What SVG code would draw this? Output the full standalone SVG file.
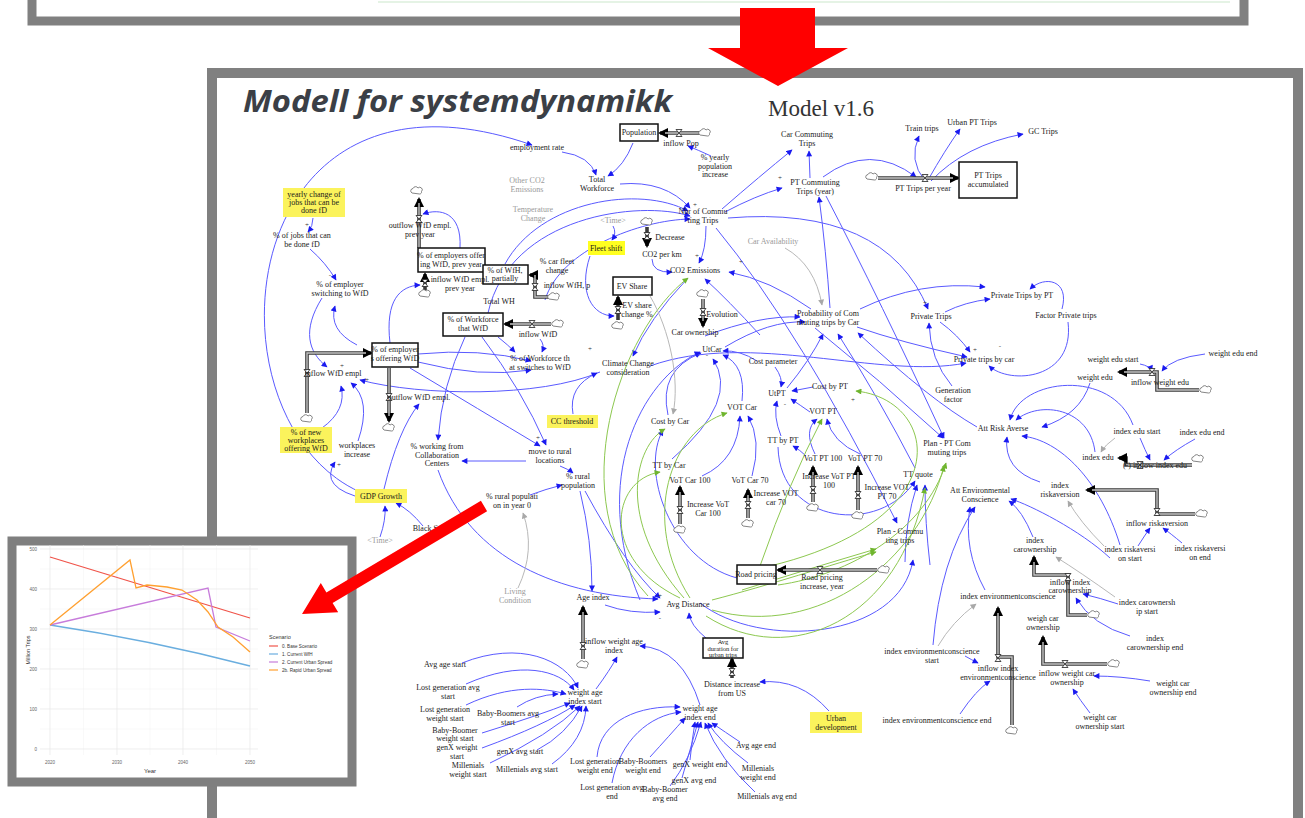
<svg xmlns="http://www.w3.org/2000/svg" width="1305" height="818" viewBox="0 0 1305 818">
<defs>
<style>
.t{font-family:"Liberation Serif",serif;font-size:8px;fill:#1a1a1a;text-anchor:middle}
.ts{font-family:"Liberation Serif",serif;font-size:6.5px;fill:#1a1a1a;text-anchor:middle}
.gt{font-family:"Liberation Serif",serif;font-size:8px;fill:#9a9a9a;text-anchor:middle}
.p{font-family:"Liberation Serif",serif;font-size:7px;fill:#333;text-anchor:middle}
.b{fill:none;stroke:#5a5aff;stroke-width:1;marker-end:url(#ab)}
.gr{fill:none;stroke:#8dc850;stroke-width:1;marker-end:url(#ag)}
.gy{fill:none;stroke:#b8b8b8;stroke-width:1;marker-end:url(#agy)}
.stock{fill:#fff;stroke:#111;stroke-width:1.5}
.yl{fill:#fbf35c}
.pipe{fill:none;stroke:#3a3a3a;stroke-width:3.6;marker-end:url(#af)}
.pipei{fill:none;stroke:#c4c4c4;stroke-width:1.4}
.cl{fill:#fff;stroke:#666;stroke-width:0.8}
.ax{font-family:"Liberation Sans",sans-serif;font-size:4.5px;fill:#666}
.lg{font-family:"Liberation Sans",sans-serif;font-size:4.6px;fill:#333}
</style>
<marker id="ab" viewBox="0 0 10 10" refX="9" refY="5" markerWidth="7" markerHeight="6" markerUnits="userSpaceOnUse" orient="auto"><path d="M0,0L10,5L0,10z" fill="#1a1af0"/></marker>
<marker id="ag" viewBox="0 0 10 10" refX="9" refY="5" markerWidth="7" markerHeight="6" markerUnits="userSpaceOnUse" orient="auto"><path d="M0,0L10,5L0,10z" fill="#6fb52e"/></marker>
<marker id="agy" viewBox="0 0 10 10" refX="9" refY="5" markerWidth="7" markerHeight="6" markerUnits="userSpaceOnUse" orient="auto"><path d="M0,0L10,5L0,10z" fill="#a8a8a8"/></marker>
<marker id="af" viewBox="0 0 10 10" refX="8" refY="5" markerWidth="10" markerHeight="10" markerUnits="userSpaceOnUse" orient="auto"><path d="M0,0L10,5L0,10z" fill="#000"/></marker>
<g id="v"><path d="M-3,-3.5H3L-3,3.5H3Z" fill="#fff" stroke="#222" stroke-width="0.8"/></g>
<g id="c"><path d="M-5,2 a2.4,2.4 0 0 1 1,-4.5 a2.8,2.8 0 0 1 5,-0.5 a2.4,2.4 0 0 1 3.5,3.5 a2,2 0 0 1 -2,2.5 z" class="cl"/></g>
</defs>

<rect width="1305" height="818" fill="#fff"/>

<g id="frames">
<rect x="32" y="-20" width="1212" height="41" fill="#fff" stroke="#808080" stroke-width="9"/>
<line x1="378" y1="2" x2="1230" y2="2" stroke="#dcefdc" stroke-width="1.5"/>
<rect x="212" y="73" width="1086" height="790" fill="#fff" stroke="#808080" stroke-width="10"/>
<path d="M740,8H815V48H848L778,86L708,48H740Z" fill="#ff0000"/>
<text x="243" y="112" font-family="Open Sans" font-style="italic" font-weight="700" font-size="30" fill="#3b3f46" textLength="429" lengthAdjust="spacingAndGlyphs">Modell for systemdynamikk</text>
<text x="768" y="116" font-family="Liberation Serif" font-size="23" fill="#333">Model v1.6</text>
</g>

<g id="connectors">
<path class="b" d="M360,492 C200,420 230,40 532,145"/>
<path class="b" d="M313,218 Q313,226 308,232"/>
<path class="b" d="M310,249 Q326,263 336,280"/>
<path class="b" d="M562,152 Q590,156 596,175"/>
<path class="b" d="M633,143 Q624,166 608,176"/>
<path class="b" d="M711,156 Q698,150 688,146"/>
<path class="b" d="M620,184 Q665,180 690,208"/>
<path class="b" d="M505,264 C540,200 640,185 688,211"/>
<path class="b" d="M488,313 C510,215 640,200 690,216"/>
<path class="b" d="M545,300 C560,250 640,220 690,219"/>
<path class="b" d="M722,209 Q760,176 792,150"/>
<path class="b" d="M725,212 Q755,196 782,188"/>
<path class="b" d="M810,178 L809,151"/>
<path class="b" d="M823,177 Q870,142 916,177"/>
<path class="b" d="M925,181 Q908,160 919,136"/>
<path class="b" d="M928,180 Q945,150 960,129"/>
<path class="b" d="M931,181 Q965,145 1023,134"/>
<path class="b" d="M830,308 Q826,250 819,197"/>
<path class="b" d="M826,196 Q880,300 944,438"/>
<path class="b" d="M728,218 Q885,205 928,309"/>
<path class="b" d="M716,228 Q800,330 897,523"/>
<path class="b" d="M652,259 Q652,273 672,272"/>
<path class="b" d="M706,226 Q706,250 699,263"/>
<path class="b" d="M811,309 Q770,280 729,272"/>
<path class="b" d="M688,278 Q648,320 633,356"/>
<path class="b" d="M613,226 Q617,233 612,240"/>
<path class="b" d="M590,256 C578,292 592,316 614,316"/>
<path class="b" d="M600,372 C540,398 420,396 360,380"/>
<path class="b" d="M573,414 Q568,386 597,373"/>
<path class="b" d="M418,354 Q480,348 531,361"/>
<path class="b" d="M418,362 Q480,378 531,370"/>
<path class="b" d="M498,337 Q508,345 515,352"/>
<path class="b" d="M540,339 Q545,345 542,352"/>
<path class="b" d="M465,337 Q442,385 438,440"/>
<path class="b" d="M482,337 Q522,390 546,445"/>
<path class="b" d="M410,368 Q480,410 540,446"/>
<path class="b" d="M526,461 L462,461"/>
<path class="b" d="M560,466 Q568,469 573,473"/>
<path class="b" d="M530,495 Q546,489 562,485"/>
<path class="b" d="M384,489 Q398,430 419,404"/>
<path class="b" d="M366,499 Q318,488 335,462"/>
<path class="b" d="M358,441 Q372,400 351,383"/>
<path class="b" d="M322,428 Q347,410 341,386"/>
<path class="b" d="M380,537 Q386,520 385,506"/>
<path class="b" d="M423,526 Q410,510 396,503"/>
<path class="b" d="M322,298 C302,330 308,352 327,367"/>
<path class="b" d="M357,345 Q328,330 335,306"/>
<path class="b" d="M390,343 C385,300 400,286 420,285"/>
<path class="b" d="M460,248 C462,212 440,208 423,214"/>
<path class="b" d="M438,470 C470,560 560,596 658,599"/>
<path class="b" d="M605,605 Q630,614 660,612"/>
<path class="b" d="M580,491 Q592,540 592,591"/>
<path class="b" d="M585,491 Q625,565 660,598"/>
<path class="b" d="M596,689 Q610,670 617,657"/>
<path class="b" d="M700,705 Q682,648 640,646"/>
<path class="b" d="M829,711 Q800,678 760,682"/>
<path class="b" d="M706,638 Q690,625 689,613"/>
<path class="b" d="M462,663 C520,640 565,660 578,688"/>
<path class="b" d="M466,684 C520,660 560,670 574,690"/>
<path class="b" d="M466,705 C510,684 545,688 566,694"/>
<path class="b" d="M517,707 Q535,695 558,694"/>
<path class="b" d="M482,733 Q540,715 570,703"/>
<path class="b" d="M482,748 Q545,725 575,705"/>
<path class="b" d="M490,763 Q550,735 580,706"/>
<path class="b" d="M537,750 Q566,735 582,706"/>
<path class="b" d="M552,764 Q585,740 586,706"/>
<path class="b" d="M597,757 C600,720 640,705 680,707"/>
<path class="b" d="M612,783 C620,740 650,715 681,712"/>
<path class="b" d="M650,757 Q670,735 685,718"/>
<path class="b" d="M690,760 Q692,740 695,722"/>
<path class="b" d="M682,778 Q690,750 698,722"/>
<path class="b" d="M670,786 Q690,760 701,722"/>
<path class="b" d="M740,742 Q725,732 712,723"/>
<path class="b" d="M748,763 Q720,742 708,723"/>
<path class="b" d="M755,792 Q720,760 705,723"/>
<path class="b" d="M787,388 Q810,360 823,334"/>
<path class="b" d="M915,468 Q880,400 838,334"/>
<path class="b" d="M725,347 Q770,320 805,322"/>
<path class="b" d="M757,361 Q740,350 723,351"/>
<path class="b" d="M775,367 Q783,378 781,387"/>
<path class="b" d="M813,387 L792,391"/>
<path class="b" d="M810,412 Q800,405 791,399"/>
<path class="b" d="M781,436 Q773,416 777,401"/>
<path class="b" d="M742,401 Q746,365 723,355"/>
<path class="b" d="M668,415 Q658,370 701,353"/>
<path class="b" d="M672,459 Q740,400 713,359"/>
<path class="b" d="M702,476 Q738,460 740,416"/>
<path class="b" d="M752,476 Q762,440 748,416"/>
<path class="b" d="M815,454 Q803,430 817,419"/>
<path class="b" d="M860,454 Q832,442 827,419"/>
<path class="b" d="M806,456 Q800,450 793,446"/>
<path class="b" d="M778,447 C780,525 880,535 915,481"/>
<path class="b" d="M705,336 Q760,315 800,317"/>
<path class="b" d="M760,335 Q728,300 705,279"/>
<path class="b" d="M857,327 Q900,342 967,357"/>
<path class="b" d="M860,309 Q920,280 985,287"/>
<path class="b" d="M650,366 C750,330 880,380 966,363"/>
<path class="b" d="M815,328 Q880,380 943,438"/>
<path class="b" d="M945,312 Q965,302 990,299"/>
<path class="b" d="M940,322 Q958,335 970,352"/>
<path class="b" d="M1062,309 C1070,280 1045,275 1030,289"/>
<path class="b" d="M1068,322 C1075,380 1010,385 989,366"/>
<path class="b" d="M952,386 Q930,360 929,323"/>
<path class="b" d="M977,427 Q930,400 858,333"/>
<path class="b" d="M1090,383 Q1080,415 1042,427"/>
<path class="b" d="M1095,452 C1090,408 1040,400 1016,420"/>
<path class="b" d="M1133,425 C1112,368 1020,378 1010,420"/>
<path class="b" d="M1040,482 Q1003,470 1007,437"/>
<path class="b" d="M1120,545 C1100,480 1060,440 1022,436"/>
<path class="b" d="M1140,364 Q1150,366 1152,371"/>
<path class="b" d="M1205,354 Q1172,358 1162,371"/>
<path class="b" d="M1140,438 Q1145,450 1150,460"/>
<path class="b" d="M1195,439 Q1175,450 1164,460"/>
<path class="b" d="M1138,546 Q1145,535 1150,528"/>
<path class="b" d="M1182,543 Q1170,533 1163,528"/>
<path class="b" d="M1033,537 Q1022,510 1009,501"/>
<path class="b" d="M1110,558 C1080,530 1030,505 1011,499"/>
<path class="b" d="M985,590 Q963,550 970,507"/>
<path class="b" d="M933,645 Q940,560 975,507"/>
<path class="b" d="M1118,604 Q1100,598 1083,594"/>
<path class="b" d="M1130,636 Q1092,625 1076,598"/>
<path class="b" d="M965,656 Q972,660 978,663"/>
<path class="b" d="M960,714 Q976,690 990,681"/>
<path class="b" d="M1150,681 Q1120,676 1094,676"/>
<path class="b" d="M1090,713 Q1080,700 1073,689"/>
<path class="b" d="M905,562 Q905,522 917,485"/>
<path class="b" d="M930,565 Q925,522 925,485"/>
<path class="b" d="M700,603 C760,650 900,640 913,560"/>
<path class="b" d="M737,578 C670,560 640,470 663,430"/>
<path class="b" d="M640,600 C590,480 640,380 700,352"/>
<path class="gr" d="M680,598 C600,560 610,480 660,472"/>
<path class="gr" d="M684,598 C615,520 635,445 665,429"/>
<path class="gr" d="M690,598 C640,520 670,430 727,413"/>
<path class="gr" d="M648,596 C560,500 620,330 688,278"/>
<path class="gr" d="M770,566 C960,520 940,400 856,391"/>
<path class="gr" d="M778,585 C850,575 925,530 946,463"/>
<path class="gr" d="M742,590 Q805,570 876,549"/>
<path class="gr" d="M760,566 Q790,480 822,419"/>
<path class="gr" d="M712,600 C770,585 830,565 876,552"/>
<path class="gr" d="M712,610 C820,640 920,560 944,466"/>
<path class="gr" d="M706,616 C790,670 900,620 925,488"/>
<path class="gy" d="M785,248 Q815,265 822,305"/>
<path class="gy" d="M518,588 Q536,550 523,513"/>
<path class="gy" d="M1115,438 Q1105,445 1101,452"/>
<path class="gy" d="M1104,546 Q1080,522 1068,501"/>
<path class="gy" d="M1115,597 Q1080,572 1056,557"/>
<path class="gy" d="M938,646 Q952,622 976,604"/>
<path class="gy" d="M650,296 C670,330 680,380 673,414"/>

<g id="flows">
<path class="pipe" d="M419,248 V199"/><path class="pipei" d="M419,248 V203"/>
<path class="pipe" d="M425,290 V274"/>
<path class="pipe" d="M548,297 H535 V275 H530"/><path class="pipei" d="M548,297 H535 V275"/>
<path class="pipe" d="M551,324 H505"/><path class="pipei" d="M551,324 H510"/>
<path class="pipe" d="M307,413 V353 H371"/><path class="pipei" d="M307,413 V353 H366"/>
<path class="pipe" d="M389,368 V421"/><path class="pipei" d="M389,368 V416"/>
<path class="pipe" d="M699,133 H660"/><path class="pipei" d="M699,133 H665"/>
<path class="pipe" d="M878,178 H958"/><path class="pipei" d="M878,178 H953"/>
<path class="pipe" d="M647,227 V246"/>
<path class="pipe" d="M618,320 V297"/>
<path class="pipe" d="M703,299 V326"/><path class="pipei" d="M703,299 V321"/>
<path class="pipe" d="M680,524 V487"/><path class="pipei" d="M680,524 V492"/>
<path class="pipe" d="M748,518 V490"/><path class="pipei" d="M748,518 V495"/>
<path class="pipe" d="M813,502 V467"/><path class="pipei" d="M813,502 V472"/>
<path class="pipe" d="M858,510 V467"/><path class="pipei" d="M858,510 V472"/>
<path class="pipe" d="M583,659 V607"/><path class="pipei" d="M583,659 V612"/>
<path class="pipe" d="M877,570 H778"/><path class="pipei" d="M877,570 H783"/>
<path class="pipe" d="M732,678 V659"/>
<path class="pipe" d="M1199,390 H1157 V372 H1119"/><path class="pipei" d="M1199,390 H1157 V372 H1124"/>
<path class="pipe" d="M1192,465 H1126 V458 H1119"/><path class="pipei" d="M1192,465 H1126"/>
<path class="pipe" d="M1195,514 H1157 V490 H1087"/><path class="pipei" d="M1195,514 H1157 V490 H1092"/>
<path class="pipe" d="M1087,615 H1068 V575 H1034 V557"/><path class="pipei" d="M1087,615 H1068 V575 H1034 V562"/>
<path class="pipe" d="M1107,664 H1043 V637"/><path class="pipei" d="M1107,664 H1043 V642"/>
<path class="pipe" d="M1012,725 V657 H998 V608"/><path class="pipei" d="M1012,725 V657 H998 V613"/>
<use href="#c" x="417" y="191"/><use href="#v" x="419" y="219"/>
<use href="#c" x="425" y="294"/><use href="#v" x="425" y="283"/>
<use href="#c" x="554" y="297"/><use href="#v" x="535" y="287"/>
<use href="#c" x="558" y="324"/><use href="#v" x="532" y="324"/>
<use href="#c" x="307" y="419"/><use href="#v" x="307" y="373"/>
<use href="#c" x="389" y="428"/><use href="#v" x="389" y="397"/>
<use href="#c" x="705" y="133"/><use href="#v" x="679" y="133"/>
<use href="#c" x="872" y="177"/><use href="#v" x="925" y="178"/>
<use href="#c" x="647" y="222"/><use href="#v" x="647" y="236"/>
<use href="#c" x="618" y="326"/><use href="#v" x="618" y="310"/>
<use href="#c" x="703" y="294"/><use href="#v" x="703" y="312"/>
<use href="#c" x="680" y="530"/><use href="#v" x="680" y="510"/>
<use href="#c" x="748" y="524"/><use href="#v" x="748" y="505"/>
<use href="#c" x="813" y="508"/><use href="#v" x="813" y="490"/>
<use href="#c" x="858" y="516"/><use href="#v" x="858" y="495"/>
<use href="#c" x="583" y="665"/><use href="#v" x="583" y="646"/>
<use href="#c" x="884" y="570"/><use href="#v" x="820" y="570"/>
<use href="#v" x="732" y="672"/>
<use href="#c" x="1206" y="390"/><use href="#v" x="1152" y="372"/>
<use href="#c" x="1198" y="459"/><use href="#v" x="1140" y="465"/>
<use href="#c" x="1202" y="514"/><use href="#v" x="1157" y="512"/>
<use href="#c" x="1094" y="615"/><use href="#v" x="1068" y="577"/>
<use href="#c" x="1114" y="664"/><use href="#v" x="1065" y="664"/>
<use href="#c" x="1012" y="731"/><use href="#v" x="998" y="658"/>
</g>
</g>

<g id="polarity">
<text class="p" x="307" y="227">+</text>
<text class="p" x="330" y="277">-</text>
<text class="p" x="342" y="368">+</text>
<text class="p" x="367" y="382">+</text>
<text class="p" x="339" y="467">+</text>
<text class="p" x="538" y="440">+</text>
<text class="p" x="590" y="351">+</text>
<text class="p" x="695" y="207">+</text>
<text class="p" x="780" y="180">+</text>
<text class="p" x="697" y="258">+</text>
<text class="p" x="741" y="264">+</text>
<text class="p" x="925" y="305">+</text>
<text class="p" x="975" y="352">+</text>
<text class="p" x="707" y="357">-</text>
<text class="p" x="785" y="406">-</text>
<text class="p" x="660" y="436">-</text>
<text class="p" x="853" y="402">+</text>
<text class="p" x="660" y="598">+</text>
<text class="p" x="660" y="620">-</text>
<text class="p" x="1000" y="348">-</text>
</g>

<g id="nodes">
<g id="n-employment-rate"><text class="t" x="537" y="150">employment rate</text></g>
<g id="n-other-co2"><text class="gt" x="527" y="183">Other CO2<tspan x="527" dy="8.5">Emissions</tspan></text></g>
<g id="n-temperature"><text class="gt" x="533" y="212">Temperature<tspan x="533" dy="8.5">Change</tspan></text></g>
<g id="n-yearly-change"><rect class="yl" x="283" y="188" width="62" height="29"/><text class="t" x="314" y="197">yearly change of<tspan x="314" dy="8">jobs that can be</tspan><tspan x="314" dy="8">done fD</tspan></text></g>
<g id="n-jobs-fd"><text class="t" x="302" y="238">% of jobs that can<tspan x="302" dy="8.5">be done fD</tspan></text></g>
<g id="n-employer-switching"><text class="t" x="340" y="287">% of employer<tspan x="340" dy="8.5">switching to WfD</tspan></text></g>
<g id="n-outflow-prev"><text class="t" x="420" y="228">outflow WfD empl.<tspan x="420" dy="8.5">prev year</tspan></text></g>
<g id="s-employers-prev"><rect class="stock" x="418" y="248" width="67" height="24"/><text class="t" x="451" y="258">% of employers offer<tspan x="451" dy="8.5">ing WfD, prev year</tspan></text></g>
<g id="s-wfh-partially"><rect class="stock" x="483" y="265" width="45" height="19"/><text class="t" x="505" y="273">% of WfH,<tspan x="505" dy="8">partially</tspan></text></g>
<g id="n-inflow-prev"><text class="t" x="460" y="282">inflow WfD empl.<tspan x="460" dy="8.5">prev year</tspan></text></g>
<g id="n-car-fleet"><text class="t" x="557" y="264">% car fleet<tspan x="557" dy="8.5">change</tspan></text></g>
<g id="n-inflow-wfh"><text class="t" x="567" y="288">inflow WfH, p</text></g>
<g id="n-total-wh"><text class="t" x="499" y="304">Total WH</text></g>
<g id="s-workforce-wfd"><rect class="stock" x="443" y="313" width="60" height="23"/><text class="t" x="473" y="322">% of Workforce<tspan x="473" dy="8.5">that WfD</tspan></text></g>
<g id="n-inflow-wfd"><text class="t" x="538" y="337">inflow WfD</text></g>
<g id="n-fleet-shift"><rect x="588" y="241" width="37" height="14" fill="#ffff20"/><text class="t" x="606" y="251">Fleet shift</text></g>
<g id="s-employers-offering"><rect class="stock" x="372" y="343" width="46" height="24"/><text class="t" x="395" y="352">% of employer<tspan x="395" dy="8.5">s offering WfD</tspan></text></g>
<g id="n-inflow-empl"><text class="t" x="333" y="376">inflow WfD empl</text></g>
<g id="n-outflow-empl"><text class="t" x="419" y="400">outflow WfD empl.</text></g>
<g id="n-new-workplaces"><rect class="yl" x="280" y="427" width="52" height="26"/><text class="t" x="306" y="435">% of new<tspan x="306" dy="8">workplaces</tspan><tspan x="306" dy="8">offering WfD</tspan></text></g>
<g id="n-workplaces-increase"><text class="t" x="357" y="448">workplaces<tspan x="357" dy="8.5">increase</tspan></text></g>
<g id="n-gdp"><rect class="yl" x="355" y="489" width="52" height="14"/><text class="t" x="381" y="499">GDP Growth</text></g>
<g id="n-time-2"><text class="gt" x="380" y="543">&lt;Time&gt;</text></g>
<g id="n-black-swan"><text class="t" x="432" y="531">Black Swan</text></g>
<g id="n-working-cc"><text class="t" x="437" y="449">% working from<tspan x="437" dy="8.5">Collaboration</tspan><tspan x="437" dy="8.5">Centers</tspan></text></g>
<g id="n-move-rural"><text class="t" x="550" y="454">move to rural<tspan x="550" dy="8.5">locations</tspan></text></g>
<g id="n-workforce-switches"><text class="t" x="540" y="361">% of Workforce th<tspan x="540" dy="8.5">at switches to WfD</tspan></text></g>
<g id="n-cc-threshold"><rect class="yl" x="547" y="415" width="51" height="13"/><text class="t" x="572" y="424">CC threshold</text></g>
<g id="n-rural-pop"><text class="t" x="578" y="479">% rural<tspan x="578" dy="8.5">population</tspan></text></g>
<g id="n-rural-pop-0"><text class="t" x="512" y="499">% rural populati<tspan x="512" dy="8.5">on in year 0</tspan></text></g>
<g id="n-climate"><text class="t" x="628" y="366">Climate Change<tspan x="628" dy="8.5">consideration</tspan></text></g>
<g id="s-population"><rect class="stock" x="620" y="124" width="38" height="17"/><text class="t" x="639" y="135">Population</text></g>
<g id="n-inflow-pop"><text class="t" x="681" y="146">inflow Pop</text></g>
<g id="n-yearly-pop"><text class="t" x="715" y="160">% yearly<tspan x="715" dy="8.5">population</tspan><tspan x="715" dy="8.5">increase</tspan></text></g>
<g id="n-total-workforce"><text class="t" x="597" y="182">Total<tspan x="597" dy="8.5">Workforce</tspan></text></g>
<g id="n-nbr-commuting"><text class="t" x="703" y="214">Nbr of Commu<tspan x="703" dy="8.5">ting Trips</tspan></text></g>
<g id="n-car-commuting"><text class="t" x="807" y="137">Car Commuting<tspan x="807" dy="8.5">Trips</tspan></text></g>
<g id="n-pt-commuting"><text class="t" x="815" y="185">PT Commuting<tspan x="815" dy="8.5">Trips (year)</tspan></text></g>
<g id="n-pt-trips-year"><text class="t" x="923" y="191">PT Trips per year</text></g>
<g id="n-train"><text class="t" x="922" y="131">Train trips</text></g>
<g id="n-urban-pt"><text class="t" x="972" y="125">Urban PT Trips</text></g>
<g id="n-gc"><text class="t" x="1043" y="134">GC Trips</text></g>
<g id="s-pt-accumulated"><rect class="stock" x="959" y="162" width="58" height="36"/><text class="t" x="988" y="178">PT Trips<tspan x="988" dy="8.5">accumulated</tspan></text></g>
<g id="n-time-1"><text class="gt" x="613" y="223">&lt;Time&gt;</text></g>
<g id="n-decrease"><text class="t" x="670" y="240">Decrease</text></g>
<g id="n-co2-km"><text class="t" x="662" y="257">CO2 per km</text></g>
<g id="n-co2"><text class="t" x="695" y="273">CO2 Emissions</text></g>
<g id="n-car-availability"><text class="gt" x="773" y="244">Car Availability</text></g>
<g id="s-ev-share"><rect class="stock" x="613" y="277" width="39" height="18"/><text class="t" x="632" y="289">EV Share</text></g>
<g id="n-ev-change"><text class="t" x="637" y="308">EV share<tspan x="637" dy="8.5">change %</tspan></text></g>
<g id="n-evolution"><text class="t" x="722" y="317">Evolution</text></g>
<g id="n-car-ownership"><text class="t" x="695" y="335">Car ownership</text></g>
<g id="n-probability"><text class="t" x="828" y="316">Probability of Com<tspan x="828" dy="8.5">muting trips by Car</tspan></text></g>
<g id="n-private-trips"><text class="t" x="931" y="319">Private Trips</text></g>
<g id="n-private-pt"><text class="t" x="1022" y="298">Private Trips by PT</text></g>
<g id="n-factor-private"><text class="t" x="1066" y="318">Factor Private trips</text></g>
<g id="n-private-car"><text class="t" x="984" y="362">Private trips by car</text></g>
<g id="n-generation"><text class="t" x="953" y="393">Generation<tspan x="953" dy="8.5">factor</tspan></text></g>
<g id="n-utcar"><text class="t" x="712" y="352">UtCar</text></g>
<g id="n-cost-param"><text class="t" x="773" y="364">Cost parameter</text></g>
<g id="n-utpt"><text class="t" x="777" y="396">UtPT</text></g>
<g id="n-cost-pt"><text class="t" x="830" y="389">Cost by PT</text></g>
<g id="n-vot-car"><text class="t" x="742" y="410">VOT Car</text></g>
<g id="n-vot-pt"><text class="t" x="823" y="414">VOT PT</text></g>
<g id="n-cost-car"><text class="t" x="670" y="424">Cost by Car</text></g>
<g id="n-tt-pt"><text class="t" x="783" y="443">TT by PT</text></g>
<g id="n-vot-pt-100"><text class="t" x="823" y="461">VoT PT 100</text></g>
<g id="n-vot-pt-70"><text class="t" x="865" y="461">VoT PT 70</text></g>
<g id="n-tt-car"><text class="t" x="669" y="468">TT by Car</text></g>
<g id="n-vot-car-100"><text class="t" x="690" y="483">VoT Car 100</text></g>
<g id="n-vot-car-70"><text class="t" x="750" y="483">VoT Car 70</text></g>
<g id="n-inc-vot-pt-100"><text class="t" x="829" y="479">Increase VoT PT<tspan x="829" dy="9">100</tspan></text></g>
<g id="n-inc-vot-pt-70"><text class="t" x="887" y="490">Increase VOT<tspan x="887" dy="9">PT 70</tspan></text></g>
<g id="n-inc-vot-car-100"><text class="t" x="708" y="507">Increase VoT<tspan x="708" dy="9">Car 100</tspan></text></g>
<g id="n-inc-vot-car-70"><text class="t" x="776" y="496">Increase VOT<tspan x="776" dy="9">car 70</tspan></text></g>
<g id="n-tt-quote"><text class="t" x="918" y="477">TT quote</text></g>
<g id="n-plan-commuting"><text class="t" x="900" y="534">Plan - Commu<tspan x="900" dy="8.5">ting trips</tspan></text></g>
<g id="n-plan-pt"><text class="t" x="947" y="446">Plan - PT Com<tspan x="947" dy="8.5">muting trips</tspan></text></g>
<g id="n-att-risk"><text class="t" x="1003" y="431">Att Risk Averse</text></g>
<g id="n-att-env"><text class="t" x="980" y="493">Att Environmental<tspan x="980" dy="8.5">Conscience</tspan></text></g>
<g id="n-weight-edu-start"><text class="t" x="1113" y="362">weight edu start</text></g>
<g id="n-weight-edu-end"><text class="t" x="1233" y="356">weight edu end</text></g>
<g id="n-weight-edu"><text class="t" x="1095" y="380">weight edu</text></g>
<g id="n-inflow-weight-edu"><text class="t" x="1160" y="385">inflow weight edu</text></g>
<g id="n-index-edu-start"><text class="t" x="1137" y="434">index edu start</text></g>
<g id="n-index-edu-end"><text class="t" x="1202" y="435">index edu end</text></g>
<g id="n-index-edu"><text class="t" x="1098" y="460">index edu</text></g>
<g id="n-inflow-index-edu"><text class="t" x="1155" y="468">(-) inflow index edu</text></g>
<g id="n-index-risk"><text class="t" x="1060" y="488">index<tspan x="1060" dy="8.5">riskaversion</tspan></text></g>
<g id="n-inflow-risk"><text class="t" x="1157" y="526">inflow riskaversion</text></g>
<g id="n-risk-start"><text class="t" x="1130" y="552">index riskaversi<tspan x="1130" dy="8.5">on start</tspan></text></g>
<g id="n-risk-end"><text class="t" x="1200" y="551">index riskaversi<tspan x="1200" dy="8.5">on end</tspan></text></g>
<g id="n-index-carown"><text class="t" x="1035" y="543">index<tspan x="1035" dy="8.5">carownership</tspan></text></g>
<g id="n-inflow-carown"><text class="t" x="1070" y="585">inflow index<tspan x="1070" dy="8">carownership</tspan></text></g>
<g id="n-carown-start"><text class="t" x="1147" y="605">index carownersh<tspan x="1147" dy="8.5">ip start</tspan></text></g>
<g id="n-carown-end"><text class="t" x="1155" y="641">index<tspan x="1155" dy="8.5">carownership end</tspan></text></g>
<g id="n-weigh-car"><text class="t" x="1043" y="621">weigh car<tspan x="1043" dy="8.5">ownership</tspan></text></g>
<g id="n-inflow-weight-car"><text class="t" x="1067" y="676">inflow weight car<tspan x="1067" dy="8.5">ownership</tspan></text></g>
<g id="n-weight-car-end"><text class="t" x="1173" y="686">weight car<tspan x="1173" dy="8.5">ownership end</tspan></text></g>
<g id="n-weight-car-start"><text class="t" x="1100" y="720">weight car<tspan x="1100" dy="8.5">ownership start</tspan></text></g>
<g id="n-index-env"><text class="t" x="1008" y="599">index environmentconscience</text></g>
<g id="n-env-start"><text class="t" x="932" y="654">index environmentconscience<tspan x="932" dy="8.5">start</tspan></text></g>
<g id="n-inflow-env"><text class="t" x="998" y="671">inflow index<tspan x="998" dy="8.5">environmentconscience</tspan></text></g>
<g id="n-env-end"><text class="t" x="937" y="723">index environmentconscience end</text></g>
<g id="s-road-pricing"><rect class="stock" x="737" y="565" width="39" height="19"/><text class="t" x="756" y="577">Road pricing</text></g>
<g id="n-road-increase"><text class="t" x="822" y="580">Road pricing<tspan x="822" dy="9">increase, year</tspan></text></g>
<g id="s-avg-duration"><rect class="stock" x="703" y="638" width="40" height="20"/><text class="ts" x="723" y="644">Avg<tspan x="723" dy="6.5">duration for</tspan><tspan x="723" dy="6.5">urban trips</tspan></text></g>
<g id="n-distance-increase"><text class="t" x="732" y="687">Distance increase<tspan x="732" dy="8.5">from US</tspan></text></g>
<g id="n-urban-dev"><rect class="yl" x="810" y="712" width="52" height="21"/><text class="t" x="836" y="721">Urban<tspan x="836" dy="8.5">development</tspan></text></g>
<g id="n-living"><text class="gt" x="515" y="594">Living<tspan x="515" dy="8.5">Condition</tspan></text></g>
<g id="n-age-index"><text class="t" x="593" y="600">Age index</text></g>
<g id="n-avg-distance"><text class="t" x="688" y="607">Avg Distance</text></g>
<g id="n-inflow-age"><text class="t" x="614" y="644">inflow weight age<tspan x="614" dy="8.5">index</tspan></text></g>
<g id="n-avg-age-start"><text class="t" x="445" y="667">Avg age start</text></g>
<g id="n-lost-avg-start"><text class="t" x="448" y="690">Lost generation avg<tspan x="448" dy="8.5">start</tspan></text></g>
<g id="n-lost-weight-start"><text class="t" x="445" y="712">Lost generation<tspan x="445" dy="8.5">weight start</tspan></text></g>
<g id="n-bb-avg-start"><text class="t" x="508" y="716">Baby-Boomers avg<tspan x="508" dy="8.5">start</tspan></text></g>
<g id="n-bb-weight-start"><text class="t" x="455" y="733">Baby-Boomer<tspan x="455" dy="8">weight start</tspan></text></g>
<g id="n-genx-weight-start"><text class="t" x="457" y="750">genX weight<tspan x="457" dy="8.5">start</tspan></text></g>
<g id="n-mill-weight-start"><text class="t" x="468" y="768">Millenials<tspan x="468" dy="9">weight start</tspan></text></g>
<g id="n-genx-avg-start"><text class="t" x="520" y="754">genX avg start</text></g>
<g id="n-mill-avg-start"><text class="t" x="527" y="772">Millenials avg start</text></g>
<g id="n-weight-age-start"><text class="t" x="585" y="695">weight age<tspan x="585" dy="8.5">index start</tspan></text></g>
<g id="n-weight-age-end"><text class="t" x="700" y="711">weight age<tspan x="700" dy="8.5">index end</tspan></text></g>
<g id="n-lost-weight-end"><text class="t" x="595" y="764">Lost generation<tspan x="595" dy="8.5">weight end</tspan></text></g>
<g id="n-bb-weight-end"><text class="t" x="643" y="764">Baby-Boomers<tspan x="643" dy="8.5">weight end</tspan></text></g>
<g id="n-genx-weight-end"><text class="t" x="700" y="767">genX weight end</text></g>
<g id="n-genx-avg-end"><text class="t" x="694" y="783">genX avg end</text></g>
<g id="n-lost-avg-end"><text class="t" x="612" y="790">Lost generation avg<tspan x="612" dy="8.5">end</tspan></text></g>
<g id="n-bb-avg-end"><text class="t" x="665" y="792">Baby-Boomer<tspan x="665" dy="8.5">avg end</tspan></text></g>
<g id="n-avg-age-end"><text class="t" x="756" y="748">Avg age end</text></g>
<g id="n-mill-weight-end"><text class="t" x="758" y="771">Millenials<tspan x="758" dy="9">weight end</tspan></text></g>
<g id="n-mill-avg-end"><text class="t" x="767" y="799">Millenials avg end</text></g>
</g>

<g id="chart">
<rect x="12" y="541" width="340" height="241" fill="#fff" stroke="#7f7f7f" stroke-width="9"/>
<g stroke="#f2f2f2" stroke-width="0.5">
<path d="M40,569H258M40,609H258M40,649H258M40,689H258M40,729H258M83.5,545V755M150,545V755M216.5,545V755"/>
</g>
<g stroke="#e6e6e6" stroke-width="0.7">
<path d="M40,549H258M40,589H258M40,629H258M40,669H258M40,709H258M40,749H258M50,545V755M117,545V755M183,545V755M250,545V755"/>
</g>
<g class="ax" text-anchor="end">
<text x="37" y="551">500</text><text x="37" y="591">400</text><text x="37" y="631">300</text><text x="37" y="671">200</text><text x="37" y="711">100</text><text x="37" y="751">0</text>
</g>
<g class="ax" text-anchor="middle">
<text x="50" y="764">2020</text><text x="117" y="764">2030</text><text x="183" y="764">2040</text><text x="250" y="764">2050</text>
</g>
<text x="150" y="773" font-family="Liberation Sans" font-size="6" fill="#333" text-anchor="middle">Year</text>
<text x="30" y="650" font-family="Liberation Sans" font-size="5.5" fill="#333" text-anchor="middle" transform="rotate(-90 30 650)">Million Trips</text>
<path d="M50,557 L250,618" fill="none" stroke="#f0544a" stroke-width="1.3"/>
<path d="M50,625 Q150,640 250,666" fill="none" stroke="#6aaedf" stroke-width="1.3"/>
<path d="M50,625 L208,588 L216,627 L250,641" fill="none" stroke="#c77cdb" stroke-width="1.3"/>
<path d="M50,625 L130,560 L136,588 L147,585 L167,587 L182,590 L197,600 L208,612 L218,627 L233,637 L250,652" fill="none" stroke="#ffa030" stroke-width="1.3"/>
<text x="269" y="639" font-family="Liberation Sans" font-size="5.5" fill="#333">Scenario</text>
<line x1="269" y1="646" x2="278" y2="646" stroke="#f0544a" stroke-width="1.2"/><text class="lg" x="282" y="647.5">0. Base Scenario</text>
<line x1="269" y1="654" x2="278" y2="654" stroke="#6aaedf" stroke-width="1.2"/><text class="lg" x="282" y="655.5">1. Current WfH</text>
<line x1="269" y1="662" x2="278" y2="662" stroke="#c77cdb" stroke-width="1.2"/><text class="lg" x="282" y="663.5">2. Current Urban Spread</text>
<line x1="269" y1="670" x2="278" y2="670" stroke="#ffa030" stroke-width="1.2"/><text class="lg" x="282" y="671.5">2b. Rapid Urban Spread</text>
</g>

<g id="red-arrow">
<path d="M480.9,500.8 L487.1,511.2 L332.6,602.9 L338.2,612.3 L302,614 L320.8,583.1 L326.4,592.5 Z" fill="#ff0000"/>
</g>
</svg>
